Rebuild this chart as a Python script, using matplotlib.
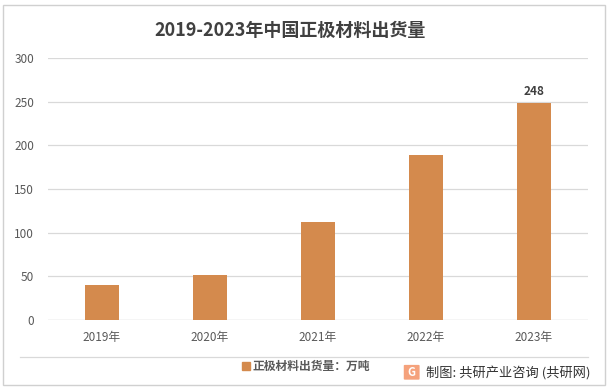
import matplotlib.pyplot as plt
from matplotlib.patches import Rectangle, FancyBboxPatch
from matplotlib.lines import Line2D

plt.rcParams['font.family'] = ['Noto Sans CJK SC', 'DejaVu Sans']

years = ["2019年", "2020年", "2021年", "2022年", "2023年"]
shipments = [40, 51, 112, 189, 248]
yticks = [0, 50, 100, 150, 200, 250, 300]
title = "2019-2023年中国正极材料出货量"
legend_label = "正极材料出货量：万吨"
source = "制图: 共研产业咨询 (共研网)"

bar_color = "#D48A4D"
text_color = "#595959"
grid_color = "#D9D9D9"

fig = plt.figure(figsize=(6.09, 3.89), dpi=100)
fig.patch.set_facecolor("white")

# outer frame
fig.patches.append(Rectangle((0.005, 0.01), 0.988, 0.977, transform=fig.transFigure,
                             fill=False, edgecolor="#D0D0D0", linewidth=1.0))

ax = fig.add_axes([0.0788, 0.1774, 0.8867, 0.6735])
x = range(len(years))
ax.bar(x, shipments, width=0.31, color=bar_color, zorder=3)
ax.set_xlim(-0.5, len(years) - 0.5)
ax.set_ylim(0, 300)
ax.set_yticks(yticks)
ax.set_xticks(list(x))
ax.set_xticklabels(years)
ax.yaxis.grid(True, color=grid_color, linewidth=0.9, zorder=0)
for s in ax.spines.values():
    s.set_visible(False)
ax.axhline(0, color=grid_color, linewidth=0.9, zorder=1)
ax.tick_params(axis="both", length=0, colors=text_color, labelsize=8.5)
ax.tick_params(axis="x", pad=8)
ax.tick_params(axis="y", pad=10)
for lab in ax.get_xticklabels() + ax.get_yticklabels():
    lab.set_fontweight("medium")

# value label on the last bar
ax.text(x[-1], shipments[-1] + 6, str(shipments[-1]), ha="center", va="bottom",
        fontsize=8.5, color="#404040", fontweight="bold")

fig.text(0.476, 0.922, title, ha="center", va="center", fontsize=13,
         fontweight="bold", color="#404040")

# separator line above legend
fig.lines.append(Line2D([0.033, 0.9655], [0.082, 0.082], transform=fig.transFigure,
                        color=grid_color, linewidth=0.9))

fig.patches.append(Rectangle((0.398, 0.049), 0.012, 0.02, transform=fig.transFigure,
                             color=bar_color))
fig.text(0.414, 0.059, legend_label, ha="left", va="center", fontsize=8.5,
         color=text_color, fontweight="bold")

# source logo + text
fig.patches.append(FancyBboxPatch((0.665, 0.026), 0.022, 0.034, transform=fig.transFigure,
                                  boxstyle="round,pad=0.002", facecolor="#F5A27C",
                                  edgecolor="none"))
fig.text(0.676, 0.043, "G", ha="center", va="center", fontsize=8, fontweight="bold",
         color="white")
fig.text(0.700, 0.041, source, ha="left", va="center", fontsize=9.5, color="#333333")

fig.savefig("out.png", dpi=100)
